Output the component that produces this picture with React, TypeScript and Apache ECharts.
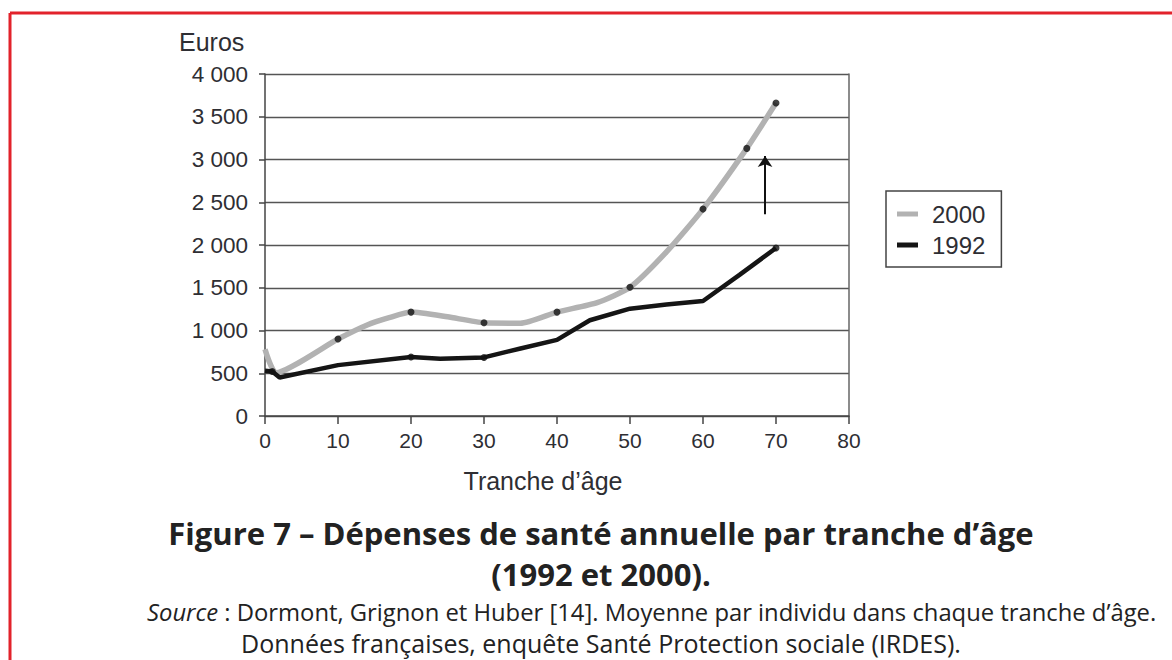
import React, { useEffect, useRef } from "react";
import * as echarts from "echarts";

// Data
const ages2000 = [0, 1.5, 10, 14, 17, 20, 25, 30, 35, 40, 45.5, 50, 55, 60, 66, 70];
const values2000 = [780, 505, 900, 1065, 1150, 1215, 1160, 1090, 1085, 1215, 1325, 1505, 1920, 2420, 3130, 3660];
const markerAges2000 = [10, 20, 30, 40, 50, 60, 66, 70];

const ages1992 = [0, 1, 2, 10, 20, 24, 30, 35, 40, 44.5, 50, 55, 60, 65, 70];
const values1992 = [530, 520, 450, 595, 690, 670, 685, 790, 890, 1120, 1255, 1305, 1345, 1650, 1965];
const markerAges1992 = [1, 20, 30, 70];

const seriesNames = ["2000", "1992"];
const yAxisTitle = "Euros";
const xAxisTitle = "Tranche d’âge";
const arrowFrom = [68.5, 2360];
const arrowTo = [68.5, 3040];

const titleLines = [
  "Figure 7 – Dépenses de santé annuelle par tranche d’âge",
  "(1992 et 2000).",
];
const sourceLine1Rest = " : Dormont, Grignon et Huber [14]. Moyenne par individu dans chaque tranche d’âge.";
const sourceLine2 = "Données françaises, enquête Santé Protection sociale (IRDES).";

const pairs = (xs: number[], ys: number[]) => xs.map((x, i) => [x, ys[i]]);
const markerPairs = (marks: number[], xs: number[], ys: number[]) =>
  marks.map((m) => [m, ys[xs.indexOf(m)]]);

const fmtY = (v: number) =>
  v >= 1000 ? `${Math.floor(v / 1000)} ${String(v % 1000).padStart(3, "0")}` : String(v);

export default function App() {
  const ref = useRef<HTMLDivElement>(null);

  useEffect(() => {
    const chart = echarts.init(ref.current!, null, { renderer: "svg" });
    const axisFont = "'Liberation Sans', Arial, sans-serif";
    const textFont = "'Open Sans', sans-serif";
    const textColor = "#2e2e33";
    const titleStyle = {
      fontSize: 31,
      fontWeight: "bold",
      fill: "#222",
      fontFamily: textFont,
      textAlign: "center",
      textVerticalAlign: "middle",
    };
    const option: any = {
      animation: false,
      backgroundColor: "#ffffff",
      grid: { left: 265, top: 74, right: 323, bottom: 244, containLabel: false },
      xAxis: {
        type: "value",
        min: 0,
        max: 80,
        interval: 10,
        axisLine: { show: true, onZero: false, lineStyle: { color: "#444", width: 1.5 } },
        axisTick: { show: true, length: 8, lineStyle: { color: "#444", width: 1.5 } },
        axisLabel: { margin: 14, fontSize: 21, color: textColor, fontFamily: axisFont },
        splitLine: { show: false },
      },
      yAxis: [
        {
          type: "value",
          min: 0,
          max: 4000,
          interval: 500,
          axisLine: { show: true, lineStyle: { color: "#444", width: 1.5 } },
          axisTick: { show: true, length: 6, lineStyle: { color: "#444", width: 1.5 } },
          axisLabel: { margin: 17, fontSize: 22.5, color: textColor, fontFamily: axisFont, formatter: fmtY },
          splitLine: { show: true, lineStyle: { color: "#555", width: 1.4 } },
        },
        {
          type: "value",
          position: "right",
          min: 0,
          max: 4000,
          interval: 500,
          axisLine: { show: true, lineStyle: { color: "#666", width: 1.5 } },
          axisTick: { show: false },
          axisLabel: { show: false },
          splitLine: { show: false },
        },
      ],
      legend: {
        data: seriesNames,
        orient: "vertical",
        left: 886,
        top: 191,
        padding: [11, 16, 10, 11],
        itemGap: 7,
        itemWidth: 21,
        itemHeight: 5,
        icon: "rect",
        borderColor: "#444",
        borderWidth: 1.5,
        selectedMode: false,
        textStyle: { fontSize: 24, color: textColor, fontFamily: axisFont, padding: [0, 0, 0, 9], lineHeight: 24 },
      },
      series: [
        {
          name: seriesNames[0],
          type: "line",
          data: pairs(ages2000, values2000),
          smooth: 0.2,
          symbol: "none",
          lineStyle: { color: "#b2b2b2", width: 5.5 },
          itemStyle: { color: "#b2b2b2" },
          z: 2,
          markLine: {
            silent: true,
            symbol: ["none", "arrow"],
            symbolSize: 11,
            label: { show: false },
            lineStyle: { color: "#111", width: 2, type: "solid" },
            data: [[{ coord: arrowFrom }, { coord: arrowTo }]],
          },
        },
        {
          name: seriesNames[1],
          type: "line",
          data: pairs(ages1992, values1992),
          symbol: "none",
          lineStyle: { color: "#151515", width: 4.5 },
          itemStyle: { color: "#151515" },
          z: 3,
        },
        {
          name: "markers2000",
          type: "scatter",
          data: markerPairs(markerAges2000, ages2000, values2000),
          symbol: "circle",
          symbolSize: 7,
          itemStyle: { color: "#111" },
          z: 4,
        },
        {
          name: "markers1992",
          type: "scatter",
          data: markerPairs(markerAges1992, ages1992, values1992),
          symbol: "circle",
          symbolSize: 7,
          itemStyle: { color: "#111" },
          z: 4,
        },
      ],
      graphic: [
        { type: "line", shape: { x1: 10, y1: 13, x2: 1172, y2: 13 }, style: { stroke: "#e2222b", lineWidth: 3 } },
        { type: "line", shape: { x1: 10, y1: 13, x2: 10, y2: 660 }, style: { stroke: "#e2222b", lineWidth: 3 } },
        {
          type: "text",
          left: 179,
          top: 29,
          style: { text: yAxisTitle, fontSize: 25, fill: textColor, fontFamily: axisFont },
        },
        {
          type: "text",
          x: 543,
          y: 481,
          style: { text: xAxisTitle, fontSize: 25, fill: textColor, fontFamily: axisFont, textAlign: "center", textVerticalAlign: "middle" },
        },
        { type: "text", x: 601, y: 533, style: { ...titleStyle, text: titleLines[0] } },
        { type: "text", x: 601, y: 574, style: { ...titleStyle, text: titleLines[1] } },
        {
          type: "text",
          x: 147,
          y: 612,
          style: {
            text: "{i|Source}" + sourceLine1Rest,
            fontSize: 23.8,
            fill: "#222",
            fontFamily: textFont,
            textAlign: "left",
            textVerticalAlign: "middle",
            rich: { i: { fontStyle: "italic", fontSize: 23.8, fill: "#222", fontFamily: textFont } },
          },
        },
        {
          type: "text",
          x: 601,
          y: 643,
          style: { text: sourceLine2, fontSize: 25, fill: "#222", fontFamily: textFont, textAlign: "center", textVerticalAlign: "middle" },
        },
      ],
    };
    chart.setOption(option);
    return () => chart.dispose();
  }, []);

  return (
    <div
      ref={ref}
      style={{ position: "absolute", left: 0, top: 0, width: 1172, height: 660, background: "#fff" }}
    />
  );
}
